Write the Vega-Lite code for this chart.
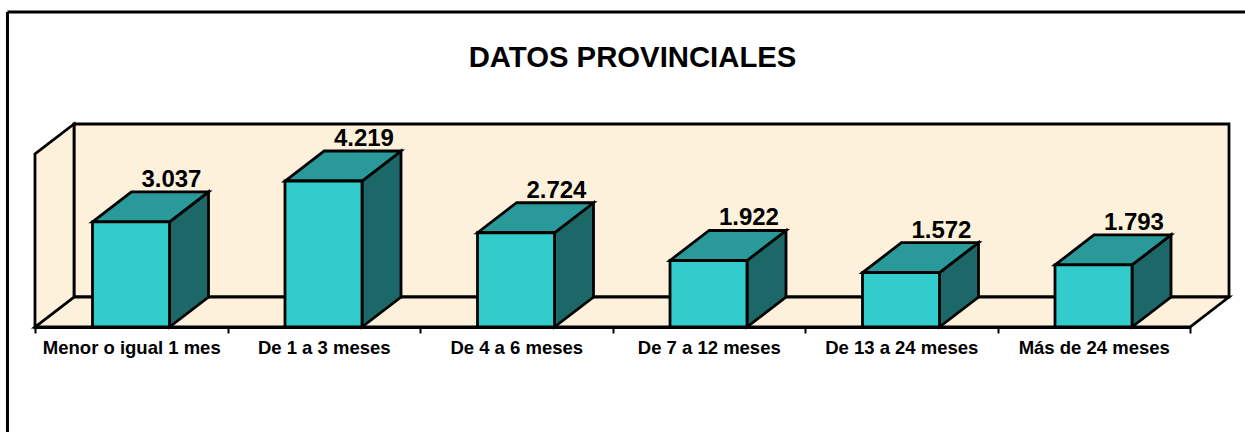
{
"$schema":"https://vega.github.io/schema/vega-lite/v6.json",
"width":1155,"height":203,
"autosize":{"type":"none"},
"padding":{"left":35,"top":124,"right":55,"bottom":105},
"background":"#ffffff",
"title":{"text":"DATOS PROVINCIALES","font":"Liberation Sans","fontSize":29.3,"fontWeight":"bold","color":"#000000","anchor":"middle","dx":20,"offset":-63},
"config":{"view":{"stroke":null},"locale":{"number":{"decimal":",","thousands":".","grouping":[3],"currency":["","€"]}}},
"datasets":{
"tiempos":[
{"categoria":"Menor o igual 1 mes","personas":3037},
{"categoria":"De 1 a 3 meses","personas":4219},
{"categoria":"De 4 a 6 meses","personas":2724},
{"categoria":"De 7 a 12 meses","personas":1922},
{"categoria":"De 13 a 24 meses","personas":1572},
{"categoria":"Más de 24 meses","personas":1793}
],
"profundidad":[{"plano":"delante","depth":0},{"plano":"detras","depth":1}]
},
"resolve":{"scale":{"x":"independent"},"axis":{"x":"independent"}},
"layer":[
{"data":{"name":"tiempos"},"mark":{"type":"rect","fill":"#FDF1DC","stroke":"#000000","strokeWidth":2.8},
 "transform":[{"aggregate":[{"op":"count","as":"n"}]}],
 "encoding":{
 "x":{"datum":0.2026,"type":"quantitative","scale":{"domain":[0,6],"nice":false,"zero":false},"axis":null},
 "x2":{"datum":6.2026},
 "y":{"datum":867,"type":"quantitative","scale":{"domain":[0,5867],"nice":false},"axis":null},
 "y2":{"datum":5867}}},
{"data":{"name":"profundidad"},"mark":{"type":"area","orient":"horizontal","fill":"#FDF1DC","stroke":"#000000","strokeWidth":2.8},
 "transform":[{"calculate":"datum.depth*0.2026","as":"x0"},{"calculate":"6+datum.depth*0.2026","as":"x1"},{"calculate":"datum.depth*867","as":"yb"}],
 "encoding":{
 "x":{"field":"x0","type":"quantitative","stack":null,"scale":{"domain":[0,6],"nice":false,"zero":false},"axis":null},
 "x2":{"field":"x1"},
 "y":{"field":"yb","type":"quantitative","scale":{"domain":[0,5867],"nice":false},"axis":null}}},
{"data":{"name":"profundidad"},"mark":{"type":"area","orient":"vertical","fill":"#FDF1DC","stroke":"#000000","strokeWidth":2.8},
 "transform":[{"calculate":"datum.depth*0.2026","as":"x0"},{"calculate":"datum.depth*867","as":"yb"},{"calculate":"5000+datum.depth*867","as":"yt"}],
 "encoding":{
 "x":{"field":"x0","type":"quantitative","scale":{"domain":[0,6],"nice":false,"zero":false},"axis":null},
 "y":{"field":"yb","type":"quantitative","stack":null,"scale":{"domain":[0,5867],"nice":false},"axis":null},
 "y2":{"field":"yt"}}},
{"data":{"name":"tiempos"},"mark":{"type":"rule","opacity":0},
 "encoding":{
 "x":{"field":"categoria","type":"nominal","sort":null,"scale":{"type":"band","paddingInner":0,"paddingOuter":0},
  "axis":{"title":null,"orient":"bottom","labelAngle":0,"tickBand":"extent","labelFont":"Liberation Sans","labelFontSize":18.5,"labelFontWeight":"bold","labelColor":"#000000","labelPadding":5,"tickSize":6,"tickColor":"#000000","tickWidth":2,"domainColor":"#000000","domainWidth":2.8,"grid":false,"labelOverlap":false}},
 "y":{"datum":0,"type":"quantitative","scale":{"domain":[0,5867],"nice":false},"axis":null}}},
{"data":{"name":"tiempos"},"mark":{"type":"area","orient":"vertical","fill":"#1C6868","stroke":"#000000","strokeWidth":2.8},
 "transform":[
 {"window":[{"op":"row_number","as":"n"}]},
 {"calculate":"0","as":"delante"},{"calculate":"1","as":"detras"},
 {"fold":["delante","detras"],"as":["plano","depth"]},
 {"calculate":"datum.n-1+0.2987+0.4+datum.depth*0.2026","as":"xs"},
 {"calculate":"datum.depth*867","as":"yb"},
 {"calculate":"datum.personas+datum.depth*867","as":"yt"}],
 "encoding":{
 "detail":{"field":"categoria"},
 "x":{"field":"xs","type":"quantitative","scale":{"domain":[0,6],"nice":false,"zero":false},"axis":null},
 "y":{"field":"yb","type":"quantitative","stack":null,"scale":{"domain":[0,5867],"nice":false},"axis":null},
 "y2":{"field":"yt"}}},
{"data":{"name":"tiempos"},"mark":{"type":"area","orient":"horizontal","fill":"#299999","stroke":"#000000","strokeWidth":2.8},
 "transform":[
 {"window":[{"op":"row_number","as":"n"}]},
 {"calculate":"0","as":"delante"},{"calculate":"1","as":"detras"},
 {"fold":["delante","detras"],"as":["plano","depth"]},
 {"calculate":"datum.n-1+0.2987+datum.depth*0.2026","as":"x0"},
 {"calculate":"datum.x0+0.4","as":"x1"},
 {"calculate":"datum.personas+datum.depth*867","as":"yt"}],
 "encoding":{
 "detail":{"field":"categoria"},
 "x":{"field":"x0","type":"quantitative","stack":null,"scale":{"domain":[0,6],"nice":false,"zero":false},"axis":null},
 "x2":{"field":"x1"},
 "y":{"field":"yt","type":"quantitative","scale":{"domain":[0,5867],"nice":false},"axis":null}}},
{"data":{"name":"tiempos"},"mark":{"type":"rect","fill":"#33CCCC","stroke":"#000000","strokeWidth":2.8},
 "transform":[
 {"window":[{"op":"row_number","as":"n"}]},
 {"calculate":"datum.n-1+0.2987","as":"x0"},
 {"calculate":"datum.x0+0.4","as":"x1"}],
 "encoding":{
 "x":{"field":"x0","type":"quantitative","scale":{"domain":[0,6],"nice":false,"zero":false},"axis":null},
 "x2":{"field":"x1"},
 "y":{"field":"personas","type":"quantitative","scale":{"domain":[0,5867],"nice":false},"axis":null},
 "y2":{"datum":0}}},
{"data":{"name":"tiempos"},"mark":{"type":"text","font":"Liberation Sans","fontSize":24,"fontWeight":"bold","color":"#000000","baseline":"alphabetic","align":"center","dy":-5},
 "transform":[
 {"window":[{"op":"row_number","as":"n"}]},
 {"calculate":"datum.n-1+0.2987+0.41","as":"xt"},
 {"calculate":"datum.personas+867","as":"yt"}],
 "encoding":{
 "x":{"field":"xt","type":"quantitative","scale":{"domain":[0,6],"nice":false,"zero":false},"axis":null},
 "y":{"field":"yt","type":"quantitative","scale":{"domain":[0,5867],"nice":false},"axis":null},
 "text":{"field":"personas","type":"quantitative","format":",.0f"}}},
{"data":{"name":"tiempos"},"mark":{"type":"rule","color":"#000000","strokeWidth":3},
 "transform":[{"aggregate":[{"op":"count","as":"n"}]}],
 "encoding":{
 "x":{"datum":-0.143,"type":"quantitative","scale":{"domain":[0,6],"nice":false,"zero":false},"axis":null},
 "y":{"datum":9104,"type":"quantitative","scale":{"domain":[0,5867],"nice":false},"axis":null},
 "y2":{"datum":-3100}}},
{"data":{"name":"tiempos"},"mark":{"type":"rule","color":"#000000","strokeWidth":3},
 "transform":[{"aggregate":[{"op":"count","as":"n"}]}],
 "encoding":{
 "x":{"datum":-0.143,"type":"quantitative","scale":{"domain":[0,6],"nice":false,"zero":false},"axis":null},
 "x2":{"datum":6.3},
 "y":{"datum":9104,"type":"quantitative","scale":{"domain":[0,5867],"nice":false},"axis":null}}}
]
}
